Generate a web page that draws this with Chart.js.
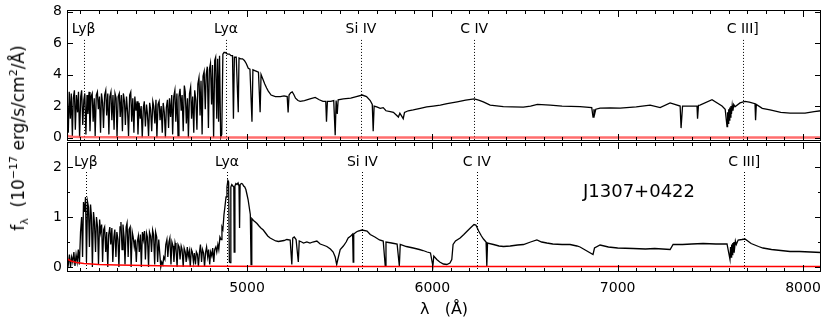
<!DOCTYPE html>
<html lang="en">
<head>
    <meta charset="UTF-8">
    <title>J1307+0422 spectrum</title>
    <script src="https://cdn.jsdelivr.net/npm/chart.js"></script>
    <style>
        body { margin: 0; background: #fff; }
        .wrap { position: relative; width: 830px; height: 320px; font-family: "DejaVu Sans", sans-serif; }
        canvas { position: absolute; left: 0; }
        #topChart { top: 0; }
        #bottomChart { top: 141px; }
        .ytitle {
            position: absolute; left: 19px; top: 138px;
            transform: translate(-50%, -50%) rotate(-90deg);
            white-space: nowrap; font-size: 17px; color: #000;
        }
        .ytitle sub, .ytitle sup { font-size: 11px; }
    </style>
</head>
<body>
    <div class="wrap">
        <canvas id="topChart" width="830" height="142"></canvas>
        <canvas id="bottomChart" width="830" height="179"></canvas>
        <div class="ytitle">f<sub>λ</sub>&nbsp; (10<sup>−17</sup> erg/s/cm<sup>2</sup>/Å)</div>
    </div>

    <script>
        // wavelength range and tick labels
        const waveMin = 4029;
        const waveMax = 8097;
        const xTickLabels = [5000, 6000, 7000, 8000];
        const topYTicks = [0, 1, 2, 3, 4, 5, 6, 7, 8];
        const topYLabels = [0, 2, 4, 6, 8];
        const bottomYTicks = [0, 0.5, 1, 1.5, 2];
        const bottomYLabels = [0, 1, 2];

        // emission lines
        const lineNames = ['Lyβ', 'Lyα', 'Si IV', 'C IV', 'C III]'];
        const topLineWave = [4119, 4887, 5615, 6226, 7675];
        const bottomLineWave = [4131, 4892, 5623, 6240, 7683];
        const objectName = 'J1307+0422';

        // top spectrum [wavelength, flux]
        const topSpectrum = [
            [4030,2.6],[4036,0.3],[4041,2.9],[4047,1.2],[4052,2.8],[4058,0.1],[4063,2.5],[4069,3.0],[4074,0.5],[4080,2.7],
            [4086,1.6],[4091,2.9],[4097,0.0],[4103,2.6],[4108,3.0],[4114,0.8],[4120,2.4],[4125,2.8],[4131,0.2],[4137,2.7],
            [4142,1.5],[4148,2.9],[4153,0.4],[4159,2.6],[4165,2.8],[4170,1.0],[4176,2.5],[4181,0.1],[4187,2.7],[4193,2.9],
            [4198,1.8],[4204,2.6],[4210,0.3],[4215,2.8],[4221,2.2],[4226,0.6],[4232,2.7],[4238,3.0],[4243,1.4],[4249,2.8],
            [4255,0.2],[4260,2.6],[4266,2.9],[4271,1.1],[4277,2.7],[4283,0.5],[4288,2.8],[4294,2.5],[4299,0.0],[4305,2.6],
            [4311,2.8],[4316,1.3],[4322,2.7],[4328,0.4],[4333,2.8],[4339,2.3],[4344,0.8],[4350,2.6],[4356,1.6],[4361,0.1],
            [4367,2.7],[4373,2.9],[4378,1.0],[4384,2.5],[4390,0.3],[4395,2.6],[4401,1.7],[4407,2.3],[4412,0.2],[4418,2.2],
            [4424,1.2],[4429,2.0],[4435,0.0],[4441,1.9],[4446,2.3],[4452,0.7],[4458,2.1],[4463,1.5],[4469,0.1],[4475,2.2],
            [4480,1.8],[4486,0.4],[4492,2.3],[4497,2.0],[4503,0.9],[4509,2.4],[4514,0.0],[4520,2.1],[4526,2.3],[4531,1.1],
            [4537,2.0],[4543,0.3],[4548,2.2],[4554,1.6],[4560,0.0],[4565,1.9],[4571,2.4],[4577,0.6],[4582,2.5],[4588,1.3],
            [4594,2.7],[4599,0.2],[4605,2.6],[4611,3.0],[4616,1.0],[4622,2.8],[4628,0.1],[4633,2.6],[4639,3.1],[4645,1.7],
            [4650,2.7],[4656,0.4],[4662,3.3],[4667,2.9],[4673,0.9],[4679,2.5],[4684,0.0],[4690,2.8],[4696,3.2],[4701,1.2],
            [4707,2.6],[4713,0.3],[4718,3.0],[4724,2.4],[4730,0.5],[4735,3.4],[4741,3.8],[4747,1.4],[4752,3.6],[4758,0.2],
            [4763,3.9],[4769,4.2],[4775,1.8],[4780,4.0],[4786,4.5],[4792,0.6],[4797,4.3],[4803,4.7],[4809,2.1],[4814,4.6],
            [4820,0.0],[4826,4.9],[4831,5.1],[4837,1.2],[4842,5.0],[4847,1.0],[4852,5.2],[4858,0.0],[4864,0.2],[4870,5.3],
            [4876,5.4],[4882,5.4],[4888,5.35],[4896,5.3],[4905,5.3],[4914,5.2],[4922,5.2],[4927,1.2],[4932,5.1],[4942,5.1],
            [4953,1.6],[4957,5.05],[4966,5.0],[4976,5.0],[4986,4.9],[4996,4.7],[5007,4.4],[5016,4.35],[5027,1.0],[5032,4.3],
            [5042,4.25],[5052,4.2],[5062,4.15],[5071,1.6],[5076,4.0],[5086,3.7],[5096,3.4],[5106,3.15],[5115,2.95],[5130,2.7],
            [5153,2.6],[5180,2.6],[5200,2.65],[5217,2.6],[5222,1.6],[5227,2.7],[5236,2.85],[5244,2.9],[5252,2.75],[5262,2.5],
            [5275,2.35],[5287,2.3],[5310,2.35],[5340,2.45],[5368,2.55],[5390,2.4],[5410,2.3],[5425,2.3],[5429,1.0],[5434,2.3],
            [5452,2.3],[5468,2.35],[5476,0.15],[5481,2.35],[5487,1.5],[5492,2.4],[5520,2.45],[5560,2.5],[5590,2.6],[5622,2.7],
            [5645,2.6],[5665,2.35],[5676,2.1],[5681,0.4],[5686,2.0],[5700,1.95],[5719,1.85],[5735,1.9],[5750,1.7],[5773,1.65],
            [5790,1.6],[5817,1.3],[5825,1.55],[5843,1.2],[5850,1.6],[5870,1.7],[5897,1.75],[5935,1.85],[5970,1.95],[6005,2.0],
            [6043,2.06],[6080,2.15],[6134,2.27],[6180,2.38],[6226,2.45],[6250,2.38],[6275,2.27],[6312,2.06],[6383,1.96],[6430,1.95],
            [6491,1.93],[6530,2.0],[6567,2.1],[6636,2.06],[6700,2.0],[6797,1.96],[6860,1.9],[6867,1.3],[6872,1.8],[6876,1.5],
            [6882,1.8],[6905,1.87],[6960,1.88],[7013,1.87],[7100,1.95],[7175,2.06],[7229,1.9],[7283,2.2],[7337,2.0],[7342,0.6],
            [7350,2.0],[7428,2.0],[7431,1.2],[7436,2.05],[7444,2.06],[7509,2.4],[7563,2.0],[7580,1.8],[7590,0.7],[7593,1.6],
            [7596,0.9],[7599,1.8],[7602,1.1],[7605,1.9],[7608,1.3],[7611,2.0],[7614,1.5],[7618,2.05],[7622,1.7],[7626,2.1],
            [7633,1.96],[7660,2.2],[7687,2.3],[7710,2.25],[7741,2.15],[7744,1.1],[7748,2.1],[7780,1.85],[7822,1.75],[7880,1.6],
            [7930,1.55],[8011,1.55],[8060,1.65],[8097,1.7]
        ];
        const topError = [[4030,0.12],[4040,0.08],[4060,0.05],[4100,0.03],[4300,0.02],[5000,0.01],[6000,0.0],[8097,0.0]];

        // bottom spectrum [wavelength, flux]
        const bottomSpectrum = [
            [4030,0.15],[4036,0.05],[4042,0.25],[4048,0.0],[4054,0.2],[4060,0.1],[4066,0.3],[4072,0.02],[4078,0.25],[4084,0.1],
            [4090,0.35],[4096,0.05],[4102,0.7],[4108,1.0],[4113,0.2],[4118,1.3],[4124,1.1],[4129,1.4],[4134,0.1],[4140,1.3],
            [4145,1.2],[4150,0.4],[4156,1.25],[4161,1.0],[4166,0.0],[4172,1.1],[4177,0.9],[4183,0.3],[4188,1.0],[4194,0.8],
            [4199,0.05],[4205,0.95],[4210,0.7],[4216,0.85],[4221,0.1],[4227,0.75],[4232,0.8],[4238,0.3],[4243,0.7],[4249,0.0],
            [4254,0.65],[4260,0.8],[4265,0.45],[4271,0.78],[4276,0.1],[4282,0.6],[4287,0.75],[4293,0.2],[4298,0.7],[4304,0.55],
            [4309,0.0],[4315,0.8],[4320,0.9],[4326,0.35],[4331,0.85],[4337,0.6],[4342,0.05],[4348,0.8],[4353,0.88],[4359,0.2],
            [4364,0.75],[4370,0.8],[4375,0.0],[4381,0.7],[4386,0.6],[4392,0.4],[4397,0.55],[4403,0.1],[4408,0.5],[4414,0.62],
            [4419,0.3],[4425,0.65],[4430,0.0],[4436,0.7],[4441,0.55],[4447,0.72],[4452,0.15],[4458,0.68],[4463,0.6],[4469,0.0],
            [4474,0.7],[4480,0.62],[4485,0.3],[4491,0.74],[4496,0.65],[4502,0.05],[4507,0.7],[4513,0.6],[4518,0.1],[4524,0.55],
            [4529,0.3],[4535,0.0],[4540,0.1],[4546,0.05],[4551,0.2],[4557,0.15],[4562,0.45],[4568,0.55],[4573,0.2],[4579,0.5],
            [4584,0.58],[4590,0.05],[4595,0.5],[4601,0.42],[4606,0.1],[4612,0.48],[4617,0.38],[4623,0.0],[4628,0.45],[4634,0.4],
            [4639,0.15],[4645,0.42],[4650,0.35],[4656,0.0],[4661,0.38],[4667,0.3],[4672,0.1],[4678,0.4],[4683,0.2],[4689,0.32],
            [4694,0.0],[4700,0.35],[4705,0.3],[4711,0.1],[4716,0.28],[4722,0.05],[4727,0.3],[4733,0.25],[4738,0.0],[4744,0.3],
            [4749,0.45],[4755,0.1],[4760,0.35],[4766,0.28],[4771,0.0],[4777,0.3],[4782,0.4],[4788,0.2],[4793,0.35],[4799,0.05],
            [4804,0.3],[4810,0.22],[4815,0.38],[4821,0.1],[4826,0.35],[4832,0.4],[4837,0.3],[4843,0.45],[4848,0.35],[4854,0.6],
            [4860,0.55],[4865,0.8],[4870,0.75],[4876,1.05],[4881,1.2],[4887,1.4],[4892,1.6],[4897,1.73],[4901,1.7],[4905,0.1],
            [4909,0.09],[4913,1.6],[4918,1.65],[4924,1.62],[4929,1.6],[4931,0.3],[4935,1.62],[4940,1.67],[4946,1.65],[4952,1.68],
            [4957,1.62],[4960,0.78],[4963,1.65],[4970,1.67],[4976,1.66],[4982,1.62],[4988,1.6],[4994,1.55],[5000,1.45],[5006,1.35],
            [5012,1.2],[5018,1.05],[5022,0.05],[5026,0.97],[5035,0.93],[5045,0.9],[5054,0.87],[5065,0.82],[5075,0.78],[5088,0.74],
            [5100,0.68],[5112,0.62],[5125,0.58],[5140,0.55],[5155,0.52],[5170,0.51],[5185,0.52],[5200,0.53],[5215,0.55],[5233,0.54],
            [5242,0.05],[5247,0.58],[5255,0.6],[5265,0.55],[5277,0.1],[5282,0.52],[5295,0.5],[5305,0.48],[5323,0.5],[5340,0.48],
            [5355,0.5],[5377,0.52],[5395,0.46],[5410,0.44],[5431,0.41],[5450,0.36],[5465,0.3],[5476,0.2],[5484,0.05],[5490,0.15],
            [5503,0.35],[5520,0.42],[5535,0.5],[5546,0.58],[5560,0.62],[5570,0.66],[5573,0.1],[5576,0.66],[5590,0.7],[5600,0.72],
            [5620,0.74],[5648,0.72],[5665,0.65],[5690,0.6],[5715,0.54],[5735,0.52],[5746,0.02],[5750,0.5],[5780,0.48],[5810,0.46],
            [5822,0.02],[5827,0.45],[5860,0.41],[5897,0.38],[5930,0.35],[5950,0.33],[5972,0.3],[5990,0.28],[6003,0.02],[6008,0.22],
            [6024,0.15],[6040,0.1],[6060,0.06],[6078,0.05],[6095,0.08],[6105,0.15],[6112,0.45],[6125,0.52],[6150,0.58],[6170,0.65],
            [6186,0.71],[6205,0.78],[6225,0.85],[6235,0.84],[6250,0.72],[6265,0.62],[6276,0.56],[6290,0.5],[6294,0.02],[6298,0.48],
            [6330,0.45],[6360,0.42],[6384,0.41],[6420,0.42],[6460,0.44],[6492,0.45],[6530,0.5],[6564,0.54],[6590,0.5],[6618,0.48],
            [6650,0.46],[6700,0.45],[6743,0.45],[6780,0.42],[6797,0.4],[6867,0.25],[6875,0.38],[6905,0.44],[6950,0.4],[7000,0.38],
            [7083,0.37],[7150,0.36],[7200,0.37],[7283,0.35],[7299,0.45],[7350,0.45],[7400,0.46],[7461,0.47],[7530,0.46],[7590,0.46],
            [7606,0.15],[7609,0.4],[7612,0.2],[7615,0.45],[7618,0.25],[7621,0.48],[7624,0.3],[7627,0.5],[7631,0.38],[7635,0.52],
            [7640,0.45],[7650,0.54],[7670,0.55],[7687,0.56],[7720,0.47],[7760,0.41],[7784,0.38],[7830,0.35],[7880,0.33],[7930,0.31],
            [7980,0.31],[8040,0.3],[8097,0.29]
        ];
        const bottomError = [[4030,0.16],[4050,0.12],[4080,0.09],[4120,0.07],[4200,0.05],[4300,0.04],[4450,0.03],[4600,0.02],[4800,0.015],[5500,0.01],[8097,0.01]];

        const FONT = '"DejaVu Sans", sans-serif';

        // frame, inward ticks, dotted line markers and labels
        function makeDecor(panel) {
            return {
                id: 'decor',
                beforeDatasetsDraw(chart) {
                    const { ctx, chartArea: a, scales: { x, y } } = chart;
                    ctx.save();
                    ctx.strokeStyle = '#000';
                    ctx.lineWidth = 1;
                    ctx.setLineDash([1, 2]);
                    panel.lineWave.forEach(w => {
                        const px = Math.round(x.getPixelForValue(w)) + 0.5;
                        ctx.beginPath();
                        ctx.moveTo(px, y.getPixelForValue(panel.lineTop));
                        ctx.lineTo(px, a.bottom);
                        ctx.stroke();
                    });
                    ctx.setLineDash([]);
                    ctx.fillStyle = '#000';
                    ctx.font = '14px ' + FONT;
                    ctx.textAlign = 'center';
                    ctx.textBaseline = 'middle';
                    lineNames.forEach((t, i) => {
                        ctx.fillText(t, x.getPixelForValue(panel.lineWave[i]), y.getPixelForValue(panel.labelY));
                    });
                    if (panel.name) {
                        ctx.font = '18px ' + FONT;
                        ctx.fillText(panel.name, x.getPixelForValue(panel.namePos[0]), y.getPixelForValue(panel.namePos[1]));
                    }
                    ctx.restore();
                },
                afterDraw(chart) {
                    const { ctx, chartArea: a, scales: { x, y } } = chart;
                    ctx.save();
                    ctx.strokeStyle = '#000';
                    ctx.lineWidth = 1;
                    ctx.strokeRect(a.left + 0.5, a.top + 0.5, a.width - 1, a.height - 1);
                    ctx.beginPath();
                    x.ticks.forEach(t => {
                        const px = Math.round(x.getPixelForValue(t.value)) + 0.5;
                        const len = xTickLabels.includes(t.value) ? 7 : 4;
                        ctx.moveTo(px, a.bottom); ctx.lineTo(px, a.bottom - len);
                        ctx.moveTo(px, a.top); ctx.lineTo(px, a.top + len);
                    });
                    y.ticks.forEach(t => {
                        const py = Math.round(y.getPixelForValue(t.value)) + 0.5;
                        const len = panel.yLabels.includes(t.value) ? 6 : 3;
                        ctx.moveTo(a.left, py); ctx.lineTo(a.left + len, py);
                        ctx.moveTo(a.right, py); ctx.lineTo(a.right - len, py);
                    });
                    ctx.stroke();
                    ctx.restore();
                }
            };
        }

        function spectrumDatasets(spec, err, errColor, errWidth) {
            return [
                {
                    data: err.map(p => ({ x: p[0], y: p[1] })),
                    borderColor: errColor,
                    borderWidth: errWidth,
                    pointRadius: 0,
                    fill: false
                },
                {
                    data: spec.map(p => ({ x: p[0], y: p[1] })),
                    borderColor: '#000',
                    borderWidth: 1.3,
                    pointRadius: 0,
                    fill: false
                }
            ];
        }

        function xTickList() {
            const list = [];
            for (let w = 4100; w <= 8000; w += 100) list.push({ value: w });
            return list;
        }

        // drop the extra room Chart.js keeps for tick labels at the ends
        function noScalePadding(s) {
            s.paddingTop = 0;
            s.paddingBottom = 0;
            s.paddingLeft = 0;
            s.paddingRight = 0;
        }

        function makeChart(id, panel) {
            const bottomAxis = panel.showX;
            return new Chart(document.getElementById(id), {
                type: 'line',
                data: { datasets: spectrumDatasets(panel.spec, panel.err, panel.errColor, panel.errWidth) },
                options: {
                    responsive: false,
                    animation: false,
                    layout: { padding: panel.padding },
                    plugins: { legend: { display: false }, tooltip: { enabled: false } },
                    scales: {
                        x: {
                            type: 'linear',
                            min: waveMin,
                            max: waveMax,
                            grid: { display: false, drawTicks: false },
                            border: { display: false },
                            afterBuildTicks: s => { s.ticks = xTickList(); },
                            afterFit: s => { s.height = panel.xHeight; noScalePadding(s); },
                            ticks: {
                                display: bottomAxis,
                                autoSkip: false,
                                maxRotation: 0,
                                padding: 8,
                                color: '#000',
                                font: { family: FONT, size: 14 },
                                callback: v => xTickLabels.includes(v) ? String(v) : ''
                            },
                            title: {
                                display: bottomAxis,
                                text: 'λ   (Å)',
                                color: '#000',
                                font: { family: FONT, size: 16 },
                                padding: { top: 0, bottom: 0 }
                            }
                        },
                        y: {
                            min: panel.yMin,
                            max: panel.yMax,
                            grid: { display: false, drawTicks: false },
                            border: { display: false },
                            afterBuildTicks: s => { s.ticks = panel.yTicks.map(v => ({ value: v })); },
                            afterFit: s => { s.width = 67; noScalePadding(s); },
                            ticks: {
                                padding: 5,
                                color: '#000',
                                font: { family: FONT, size: 14 },
                                callback: v => panel.yLabels.includes(v) ? String(v) : ''
                            }
                        }
                    }
                },
                plugins: [makeDecor(panel)]
            });
        }

        makeChart('topChart', {
            spec: topSpectrum, err: topError,
            errColor: 'rgba(255,60,60,0.75)', errWidth: 2.5,
            yMin: -0.22, yMax: 8.1,
            yTicks: topYTicks, yLabels: topYLabels,
            lineWave: topLineWave, lineTop: 6.2, labelY: 6.9,
            padding: { top: 10, right: 9, bottom: 1, left: 0 },
            xHeight: 0, showX: false
        });

        makeChart('bottomChart', {
            spec: bottomSpectrum, err: bottomError,
            errColor: '#ff0000', errWidth: 1.5,
            yMin: -0.1, yMax: 2.5,
            yTicks: bottomYTicks, yLabels: bottomYLabels,
            lineWave: bottomLineWave, lineTop: 1.9, labelY: 2.1,
            name: objectName, namePos: [7115, 1.5],
            padding: { top: 1, right: 9, bottom: 1, left: 0 },
            xHeight: 47, showX: true
        });
    </script>
</body>
</html>
